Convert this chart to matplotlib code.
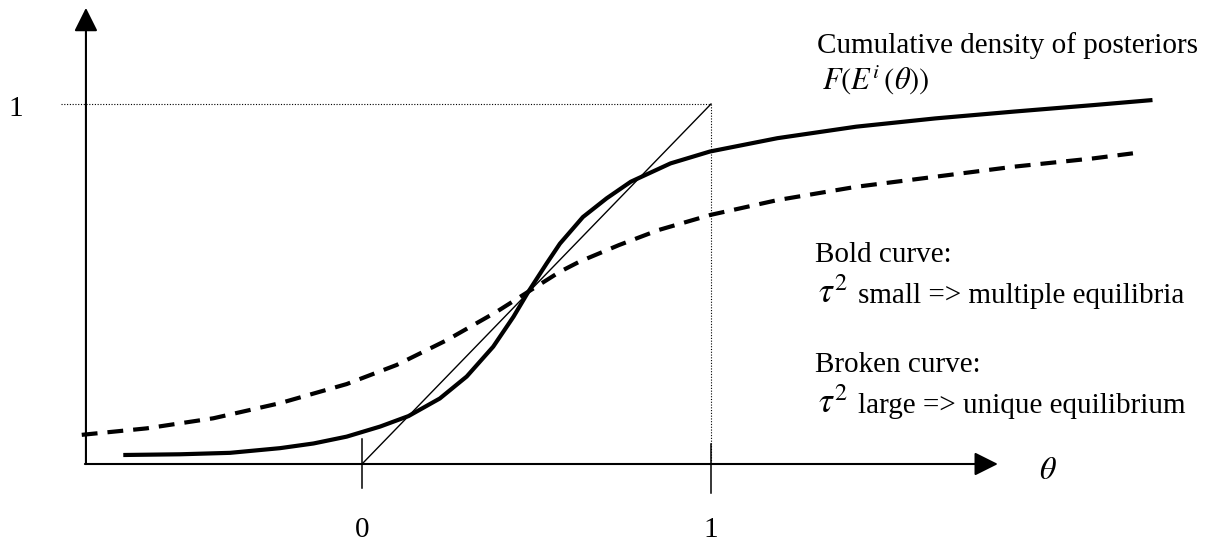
import matplotlib
matplotlib.use('Agg')
import matplotlib.pyplot as plt

plt.rcParams['font.family'] = ['Liberation Serif', 'DejaVu Serif']
plt.rcParams['mathtext.fontset'] = 'stix'

# values (theta, F)
bold_x = [-0.684, -0.521, -0.378, -0.235, -0.139, -0.044, 0.052, 0.133, 0.223, 0.300, 0.376, 0.434, 0.477,
          0.529, 0.567, 0.633, 0.701, 0.770, 0.884, 0.997, 1.190, 1.416, 1.643, 1.869, 2.096, 2.265]
bold_y = [0.025, 0.027, 0.031, 0.044, 0.057, 0.076, 0.104, 0.133, 0.182, 0.243, 0.326, 0.409, 0.479,
          0.557, 0.612, 0.686, 0.738, 0.784, 0.835, 0.868, 0.905, 0.937, 0.960, 0.979, 0.997, 1.011]

dash_x = [-0.803, -0.617, -0.426, -0.235, -0.044, 0.099, 0.243, 0.386, 0.477, 0.567, 0.623, 0.736, 0.850,
          0.999, 1.190, 1.416, 1.643, 1.869, 2.096, 2.209]
dash_y = [0.081, 0.099, 0.127, 0.169, 0.222, 0.275, 0.344, 0.423, 0.479, 0.534, 0.562, 0.608, 0.650,
          0.692, 0.733, 0.770, 0.798, 0.826, 0.849, 0.863]

tick_positions = [0, 1]
tick_labels = ['0', '1']

fig = plt.figure(figsize=(12.11, 5.42), dpi=100)
ax = fig.add_axes([0, 0, 1, 1])
ax.set_xlim(-362 / 349, (1211 - 362) / 349)
ax.set_ylim(-(542 - 464) / 360, 464 / 360)
ax.axis('off')

x_left = -0.791
x_end = 1.822
y_top = 1.267

# axes with arrow heads
arrow = dict(arrowstyle='-|>,head_length=0.72,head_width=0.36', lw=1.5, color='black',
             mutation_scale=20, shrinkA=0, shrinkB=0)
ax.annotate('', xy=(x_left, y_top), xytext=(x_left, 0), arrowprops=arrow)
ax.annotate('', xy=(x_end, 0), xytext=(x_left - 0.003, 0), arrowprops=arrow)

# ticks
ax.plot([0, 0], [0.069, -0.067], color='black', lw=1.1)
ax.plot([1, 1], [0.056, -0.081], color='black', lw=1.1)
for pos, lab in zip(tick_positions, tick_labels):
    ax.text(pos, -0.203, lab, ha='center', va='baseline', fontsize=21)

# dotted guides to (1, 1)
ax.plot([-0.862, 1], [1, 1], color='black', lw=0.8, linestyle=(0, (1, 1.5)))
ax.plot([1, 1], [1, 0], color='black', lw=0.8, linestyle=(0, (1, 1.5)))
ax.text(-0.991, 0.986, '1', ha='center', va='center', fontsize=21)

# 45 degree line
ax.plot([0, 1], [0, 1], color='black', lw=1.0)

# curves
ax.plot(bold_x, bold_y, color='black', lw=3, solid_capstyle='butt', solid_joinstyle='round')
ax.plot(dash_x, dash_y, color='black', lw=3, linestyle=(0, (3.8, 2.4)))

# labels
ax.text(1.966, -0.022, r'$\theta$', ha='center', va='center', fontsize=23)
ax.text(1.304, 1.142, 'Cumulative density of posteriors', fontsize=21, va='baseline')
ax.text(1.318, 1.039, r'$F(E^i\,(\theta))$', fontsize=22, va='baseline')
ax.text(1.298, 0.561, 'Bold curve:', fontsize=21, va='baseline')
ax.text(1.307, 0.447, r'$\tau^2$', fontsize=25, va='baseline')
ax.text(1.421, 0.447, 'small => multiple equilibria', fontsize=21, va='baseline')
ax.text(1.298, 0.256, 'Broken curve:', fontsize=21, va='baseline')
ax.text(1.307, 0.142, r'$\tau^2$', fontsize=25, va='baseline')
ax.text(1.421, 0.142, 'large => unique equilibrium', fontsize=21, va='baseline')

fig.savefig('out.png', dpi=100)
